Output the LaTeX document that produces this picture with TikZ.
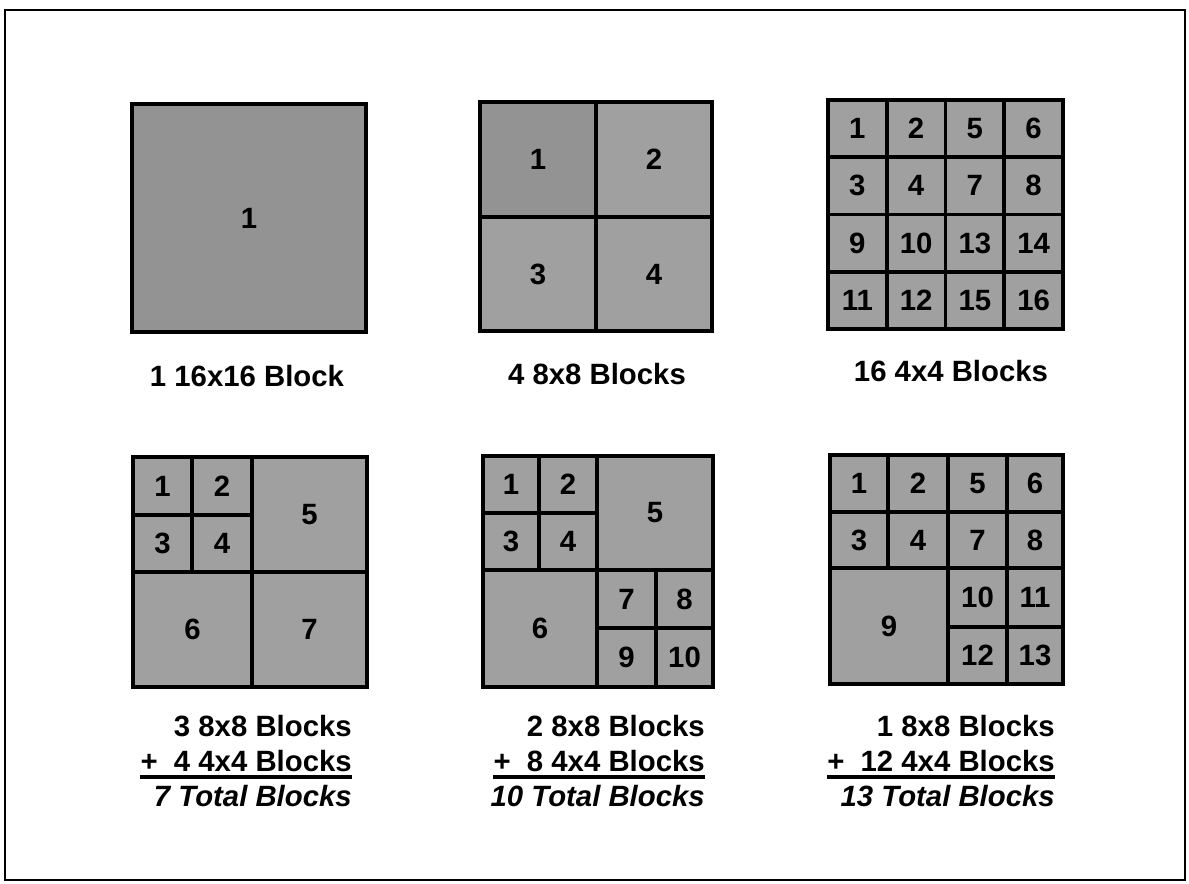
\documentclass[tikz,border=0pt]{standalone}
\usepackage{fontspec}
\setmainfont{Liberation Sans}
\usepackage{tikz}
\usetikzlibrary{positioning}

\definecolor{cellgray}{RGB}{160,160,160}
\definecolor{celldark}{RGB}{147,147,147}

% one block of the partition: name, x1, y1, x2, y2, number
\newcommand{\cell}[7][cellgray]{%
  \node[cell, fill=#1, minimum width={((#5)-(#3))*0.75pt},
        minimum height={((#6)-(#4))*0.75pt}]
    (#2) at ({((#3)+(#5))/2},{((#4)+(#6))/2}) {#7};}

\begin{document}
\begin{tikzpicture}[
    x=0.75pt, y=-0.75pt,
    cell/.style={draw, line width=2.7pt, inner sep=0pt, outer sep=0pt,
                 font=\fontsize{22}{24}\selectfont\bfseries},
    caption/.style={font=\fontsize{22}{24}\selectfont\bfseries, inner sep=0pt},
    sumline/.style={caption, anchor=base east},
    rule/.style={line width=2.4pt},
    frame/.style={line width=1.5pt},
]
\useasboundingbox (0,0) rectangle (1189,884);
\draw[frame] (5,10) rectangle (1185,880);

% --- Top row ---
\cell[celldark]{a1}{132}{104}{366}{332}{1}

\cell[celldark]{b1}{480}{102}{596}{217}{1}
\cell{b2}{596}{102}{712}{217}{2}
\cell{b3}{480}{217}{596}{331}{3}
\cell{b4}{596}{217}{712}{331}{4}

\foreach \lab [count=\i from 0] in {1,2,5,6,3,4,7,8,9,10,13,14,11,12,15,16} {
  \pgfmathtruncatemacro\cx{mod(\i,4)}
  \pgfmathtruncatemacro\ry{div(\i,4)}
  \cell{c\lab}{828+58.75*\cx}{100+57.25*\ry}{828+58.75*(\cx+1)}{100+57.25*(\ry+1)}{\lab}
}

% --- Bottom row ---
\cell{d1}{133}{457}{192}{515}{1}
\cell{d2}{192}{457}{252}{515}{2}
\cell{d3}{133}{515}{192}{572}{3}
\cell{d4}{192}{515}{252}{572}{4}
\cell{d5}{252}{457}{367}{572}{5}
\cell{d6}{133}{572}{252}{687}{6}
\cell{d7}{252}{572}{367}{687}{7}

\cell{e1}{483}{456}{539}{513}{1}
\cell{e2}{539}{456}{597}{513}{2}
\cell{e3}{483}{513}{539}{570}{3}
\cell{e4}{539}{513}{597}{570}{4}
\cell{e5}{597}{456}{713}{570}{5}
\cell{e6}{483}{570}{597}{687}{6}
\cell{e7}{597}{570}{656}{628}{7}
\cell{e8}{656}{570}{713}{628}{8}
\cell{e9}{597}{628}{656}{687}{9}
\cell{e10}{656}{628}{713}{687}{10}

\cell{f1}{830}{455}{888}{512}{1}
\cell{f2}{888}{455}{948}{512}{2}
\cell{f5}{948}{455}{1007}{512}{5}
\cell{f6}{1007}{455}{1063}{512}{6}
\cell{f3}{830}{512}{888}{568}{3}
\cell{f4}{888}{512}{948}{568}{4}
\cell{f7}{948}{512}{1007}{568}{7}
\cell{f8}{1007}{512}{1063}{568}{8}
\cell{f9}{830}{568}{948}{684}{9}
\cell{f10}{948}{568}{1007}{627}{10}
\cell{f11}{1007}{568}{1063}{627}{11}
\cell{f12}{948}{627}{1007}{684}{12}
\cell{f13}{1007}{627}{1063}{684}{13}

% --- Captions ---
\node[caption, anchor=base] (capa) at (247,386) {1 16x16 Block};
\node[caption, anchor=base] (capb) at (597,384) {4 8x8 Blocks};
\node[caption, anchor=base] (capc) at (951,381) {16 4x4 Blocks};

\node[sumline] (d8x8) at (352,736) {3 8x8 Blocks};
\node[sumline] (d4x4) at (352,771) {+~~4 4x4 Blocks};
\node[sumline, font=\fontsize{22}{24}\selectfont\bfseries\itshape] (dtot) at (352,806) {7 Total Blocks};
\draw[rule] (d4x4.base west) ++(0,6) -- (d4x4.base east |- 0,777);

\node[sumline] (e8x8) at (705,736) {2 8x8 Blocks};
\node[sumline] (e4x4) at (705,771) {+~~8 4x4 Blocks};
\node[sumline, font=\fontsize{22}{24}\selectfont\bfseries\itshape] (etot) at (705,806) {10 Total Blocks};
\draw[rule] (e4x4.base west) ++(0,6) -- (e4x4.base east |- 0,777);

\node[sumline] (f8x8) at (1055,736) {1 8x8 Blocks};
\node[sumline] (f4x4) at (1055,771) {+~~12 4x4 Blocks};
\node[sumline, font=\fontsize{22}{24}\selectfont\bfseries\itshape] (ftot) at (1055,806) {13 Total Blocks};
\draw[rule] (f4x4.base west) ++(0,6) -- (f4x4.base east |- 0,777);
\end{tikzpicture}
\end{document}
